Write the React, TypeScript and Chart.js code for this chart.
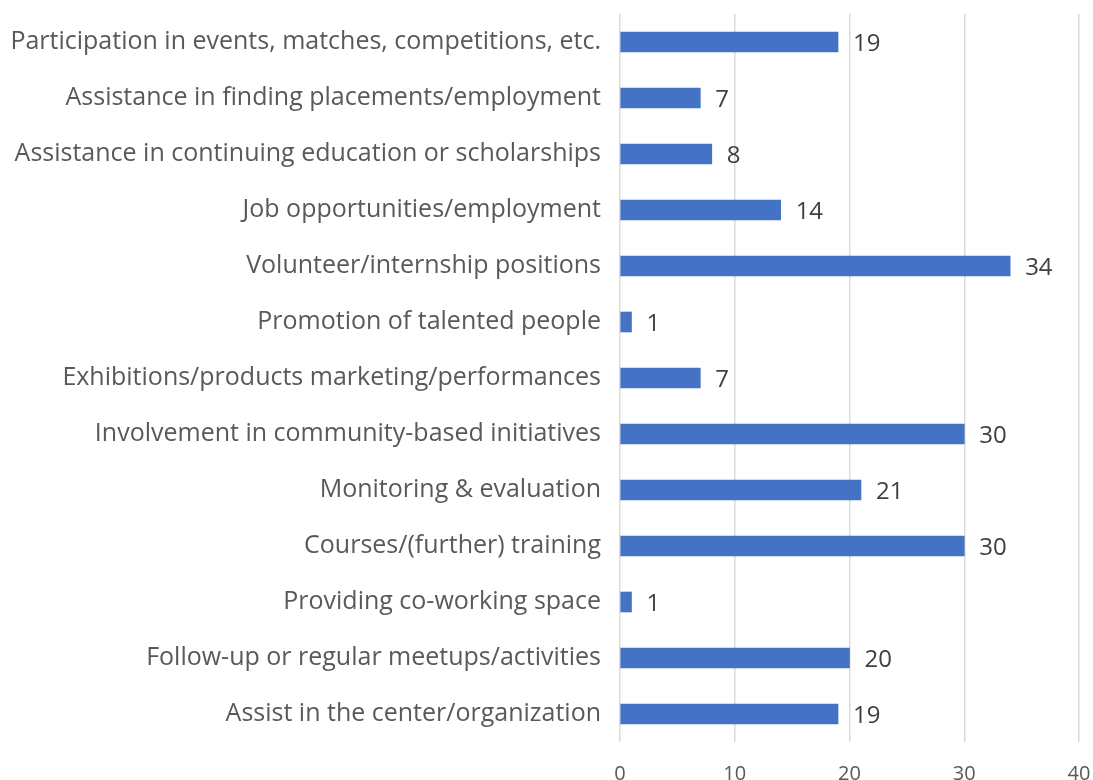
import React, { useEffect, useRef } from "react";
import { Chart, registerables } from "chart.js";

Chart.register(...registerables);

const categories: string[] = [
  "Participation in events, matches, competitions, etc.",
  "Assistance in finding placements/employment",
  "Assistance in continuing education or scholarships",
  "Job opportunities/employment",
  "Volunteer/internship positions",
  "Promotion of talented people",
  "Exhibitions/products marketing/performances",
  "Involvement in community-based initiatives",
  "Monitoring & evaluation",
  "Courses/(further) training",
  "Providing co-working space",
  "Follow-up or regular meetups/activities",
  "Assist in the center/organization",
];

const values: number[] = [19, 7, 8, 14, 34, 1, 7, 30, 21, 30, 1, 20, 19];

const xTicks: number[] = [0, 10, 20, 30, 40];

const FONT = "'Open Sans', sans-serif";

const dataLabelPlugin = {
  id: "dataLabels",
  afterDatasetsDraw(chart: any) {
    const ctx = chart.ctx;
    const meta = chart.getDatasetMeta(0);
    ctx.save();
    ctx.font = `24px ${FONT}`;
    ctx.fillStyle = "#404040";
    ctx.textAlign = "left";
    ctx.textBaseline = "middle";
    meta.data.forEach((bar: any, i: number) => {
      ctx.fillText(String(values[i]), bar.x + 15, bar.y + 2);
    });
    ctx.restore();
  },
};

export default function App() {
  const ref = useRef<HTMLCanvasElement | null>(null);
  useEffect(() => {
    if (!ref.current) return;
    const chart = new Chart(ref.current, {
      type: "bar",
      data: {
        labels: categories,
        datasets: [
          {
            data: values,
            backgroundColor: "#4472C4",
            barThickness: 20,
          },
        ],
      },
      options: {
        indexAxis: "y",
        animation: false,
        responsive: false,
        maintainAspectRatio: false,
        layout: { padding: { top: 14, right: 14, left: 0, bottom: 0 } },
        plugins: { legend: { display: false }, tooltip: { enabled: false } },
        scales: {
          x: {
            min: 0,
            max: 40,
            afterBuildTicks: (scale: any) => {
              scale.ticks = xTicks.map((v) => ({ value: v }));
            },
            afterFit: (scale: any) => {
              scale.height = 38;
              scale.paddingLeft = 0;
              scale.paddingRight = 0;
            },
            grid: { color: "#D9D9D9", lineWidth: 1.5, drawTicks: false },
            border: { display: false },
            ticks: {
              color: "#595959",
              font: { family: FONT, size: 20 },
              padding: 20,
            },
          },
          y: {
            afterFit: (scale: any) => {
              scale.width = 620;
              scale.paddingTop = 0;
              scale.paddingBottom = 0;
            },
            grid: { display: false, drawTicks: false },
            border: { display: false },
            ticks: {
              color: "#595959",
              font: { family: FONT, size: 25 },
              padding: 19,
              autoSkip: false,
            },
          },
        },
      },
      plugins: [dataLabelPlugin],
    });
    return () => chart.destroy();
  }, []);
  return (
    <div style={{ position: "fixed", left: 0, top: 0, width: 1093, height: 780, background: "#fff" }}>
      <canvas ref={ref} width={1093} height={780} style={{ width: 1093, height: 780 }} />
    </div>
  );
}
